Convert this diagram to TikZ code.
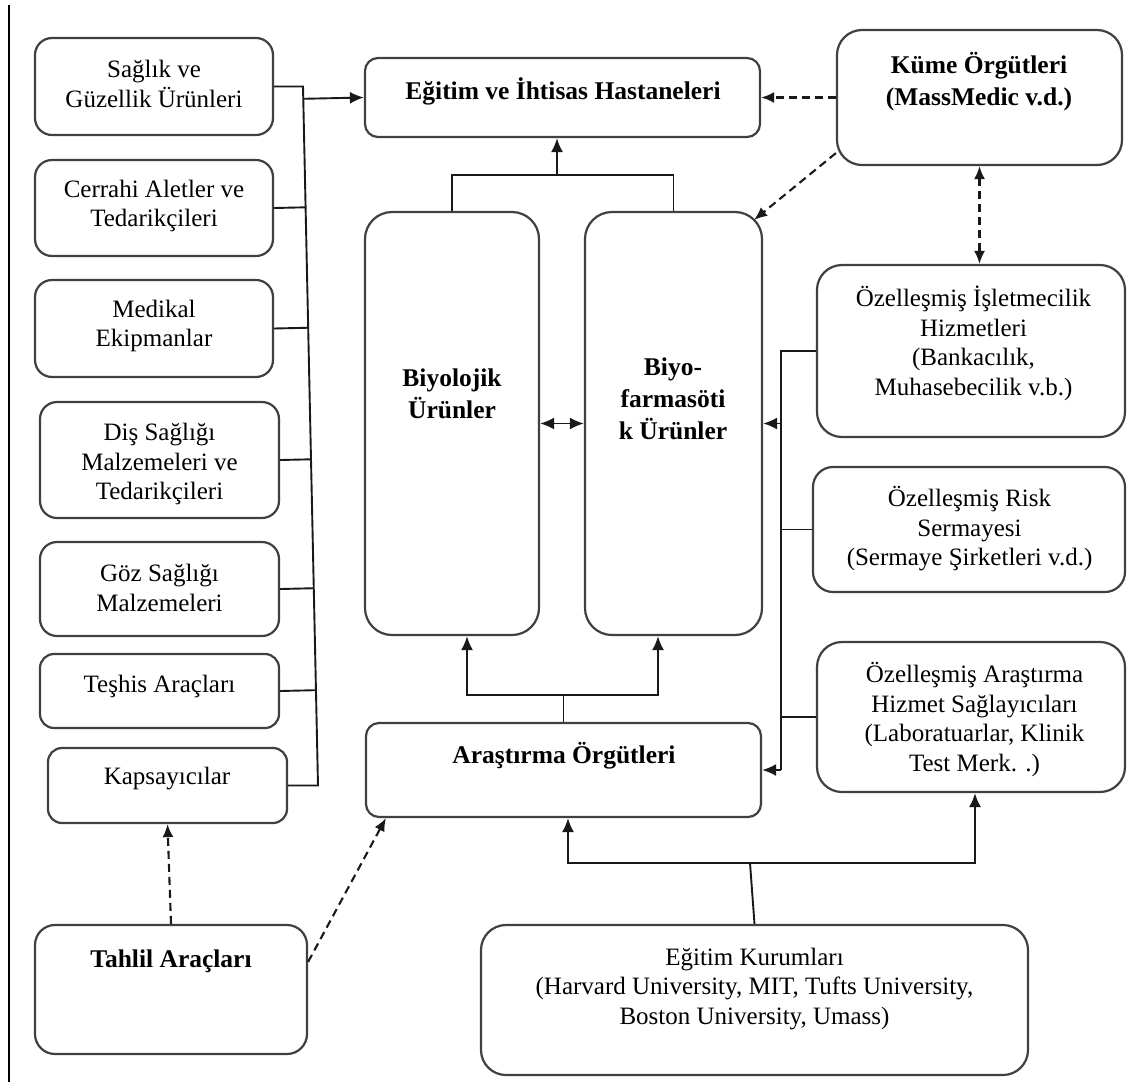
\documentclass[tikz,border=0pt]{standalone}
\usepackage{fontspec}
\setmainfont{Liberation Serif}
\usetikzlibrary{arrows.meta,calc}
\begin{document}
\begin{tikzpicture}[x=1pt,y=-1pt,
  box/.style={draw=black!75,line width=2.2pt,fill=white,inner sep=0pt},
  txt/.style={align=center,font=\fontsize{25}{29.5}\selectfont,inner sep=0pt},
  ttl/.style={align=center,font=\fontsize{25.5}{32}\selectfont\bfseries,inner sep=0pt},
  con/.style={line width=1.9pt,black!90},
  arr/.style={con,-{Latex[length=14pt,width=12pt]}},
  darr/.style={con,{Latex[length=14pt,width=12pt]}-{Latex[length=14pt,width=12pt]}},
  dsh/.style={con,line width=2.1pt,dash pattern=on 8pt off 5pt,-{Latex[length=13pt,width=11pt]}},
  ddsh/.style={con,line width=2.1pt,dash pattern=on 8pt off 5pt,{Latex[length=13pt,width=11pt]}-{Latex[length=13pt,width=11pt]}}]
\useasboundingbox (0,0) rectangle (1127,1082);
\fill[white] (0,0) rectangle (1127,1082);
% left frame line
\draw[line width=1.8pt] (9,5) -- (9,1082);

% left column boxes
\node[box,rounded corners=17pt,minimum width=238pt,minimum height=97pt] (b1) at (154,86.5) {};
\node[box,rounded corners=17pt,minimum width=238pt,minimum height=96pt] (b2) at (154,208) {};
\node[box,rounded corners=17pt,minimum width=238pt,minimum height=97pt] (b3) at (154,328.5) {};
\node[box,rounded corners=17pt,minimum width=239pt,minimum height=116pt] (b4) at (159.5,460) {};
\node[box,rounded corners=17pt,minimum width=239pt,minimum height=94pt] (b5) at (159.5,589) {};
\node[box,rounded corners=14pt,minimum width=239pt,minimum height=74pt] (b6) at (159.5,691) {};
\node[box,rounded corners=14pt,minimum width=239pt,minimum height=75pt] (b7) at (167.5,785.5) {};
\node[box,rounded corners=20pt,minimum width=272pt,minimum height=129pt] (b8) at (171,989.5) {};

% centre boxes
\node[box,rounded corners=13pt,minimum width=395pt,minimum height=79pt] (h) at (562.5,97.5) {};
\node[box,rounded corners=27pt,minimum width=174pt,minimum height=423pt] (bio) at (452,423.5) {};
\node[box,rounded corners=27pt,minimum width=177pt,minimum height=423pt] (bf) at (673.5,423.5) {};
\node[box,rounded corners=13pt,minimum width=395pt,minimum height=94pt] (ar) at (563.5,770) {};
\node[box,rounded corners=25pt,minimum width=547pt,minimum height=150pt] (ek) at (754.5,1000) {};

% right boxes
\node[box,rounded corners=25pt,minimum width=285pt,minimum height=135pt] (k) at (979.5,97.5) {};
\node[box,rounded corners=25pt,minimum width=308pt,minimum height=172pt] (r1) at (971,351) {};
\node[box,rounded corners=20pt,minimum width=312pt,minimum height=125pt] (r2) at (969,529.5) {};
\node[box,rounded corners=25pt,minimum width=308pt,minimum height=150pt] (r3) at (971,717) {};

% texts
\node[txt] (t1) at (154,84) {Sağlık ve\\Güzellik Ürünleri};
\node[txt] (t2) at (154,206) {Cerrahi Aletler ve\\Tedarikçileri};
\node[txt] (t3) at (154,326) {Medikal\\Ekipmanlar};
\node[txt] (t4) at (159.5,464) {Diş Sağlığı\\Malzemeleri ve\\Tedarikçileri};
\node[txt] (t5) at (159.5,588) {Göz Sağlığı\\Malzemeleri};
\node[txt] (t6) at (159.5,686) {Teşhis Araçları};
\node[txt] (t7) at (167,779) {Kapsayıcılar};
\node[ttl] (t8) at (171,961) {Tahlil Araçları};
\node[ttl] (th) at (563,91) {Eğitim ve İhtisas Hastaneleri};
\node[ttl] (tk) at (979,82) {Küme Örgütleri\\(MassMedic v.d.)};
\node[ttl] (tbio) at (452,394) {Biyolojik\\Ürünler};
\node[ttl] (tbf) at (673,399) {Biyo-\\farmasöti\\k Ürünler};
\node[ttl] (tar) at (564,756) {Araştırma Örgütleri};
\node[txt] (tr1) at (973.5,343.5) {Özelleşmiş İşletmecilik\\Hizmetleri\\(Bankacılık,\\Muhasebecilik v.b.)};
\node[txt] (tr2) at (969.5,529) {Özelleşmiş Risk\\Sermayesi\\(Sermaye Şirketleri v.d.)};
\node[txt] (tr3) at (974.5,719.5) {Özelleşmiş Araştırma\\Hizmet Sağlayıcıları\\(Laboratuarlar, Klinik\\Test Merk. .)};
\node[txt] (tek) at (754.5,989) {Eğitim Kurumları\\(Harvard University, MIT, Tufts University,\\Boston University, Umass)};

% left bus
\coordinate (busT) at (303,86.5);
\coordinate (busB) at (318,785.5);
\draw[con] (b1.east) -- (busT) -- (busB) -- (b7.east);
\foreach \b in {b2,b3,b4,b5,b6}
  \draw[con] (\b.east) -- ($(busT)!(\b.east)!(busB)$);
\draw[arr] ($(busT)!(h.west)!(busB)$) -- (h.west);

% biological products tree
\coordinate (tj) at (557,175);
\draw[con] (bio.north) -- (bio.north |- tj) -- (bf.north |- tj) -- (bf.north);
\draw[arr] (tj) -- (tj |- h.south);
\draw[darr] (bio.east) -- (bf.west);

% research tree
\coordinate (arj) at (563.5,695);
\coordinate (pa) at (467,695);
\coordinate (pb) at (658,695);
\draw[con] (ar.north) -- (arj);
\draw[arr] (arj) -- (pa) -- (pa |- bio.south);
\draw[arr] (arj) -- (pb) -- (pb |- bf.south);

% right bus
\coordinate (rT) at (781,351);
\coordinate (rB) at (781,770);
\draw[con] (r1.west) -- (rT) -- (rB);
\draw[con] (r2.west) -- (r2.west -| rT);
\draw[con] (r3.west) -- (r3.west -| rT);
\draw[arr] (rB) -- (ar.east);
\draw[arr] (bf.east -| rT) -- (bf.east);

% dashed links
\draw[dsh] (k.west) -- (h.east);
\draw[dsh] ($(k.south west)+(0,-13)$) -- ($(bf.north east)+(-9,9)$);
\draw[ddsh] (k.south) -- (k.south |- r1.north);
\draw[dsh] (b8.north) -- (b7.south);
\draw[dsh] ($(b8.north east)+(0,38)$) -- ($(ar.south west)+(21,0)$);

% education tree
\coordinate (ekj) at (750,863);
\coordinate (pc) at (568,863);
\coordinate (pd) at (975,863);
\draw[con] (ek.north) -- (ekj);
\draw[arr] (ekj) -- (pc) -- (pc |- ar.south);
\draw[arr] (ekj) -- (pd) -- (pd |- r3.south);
\end{tikzpicture}
\end{document}
